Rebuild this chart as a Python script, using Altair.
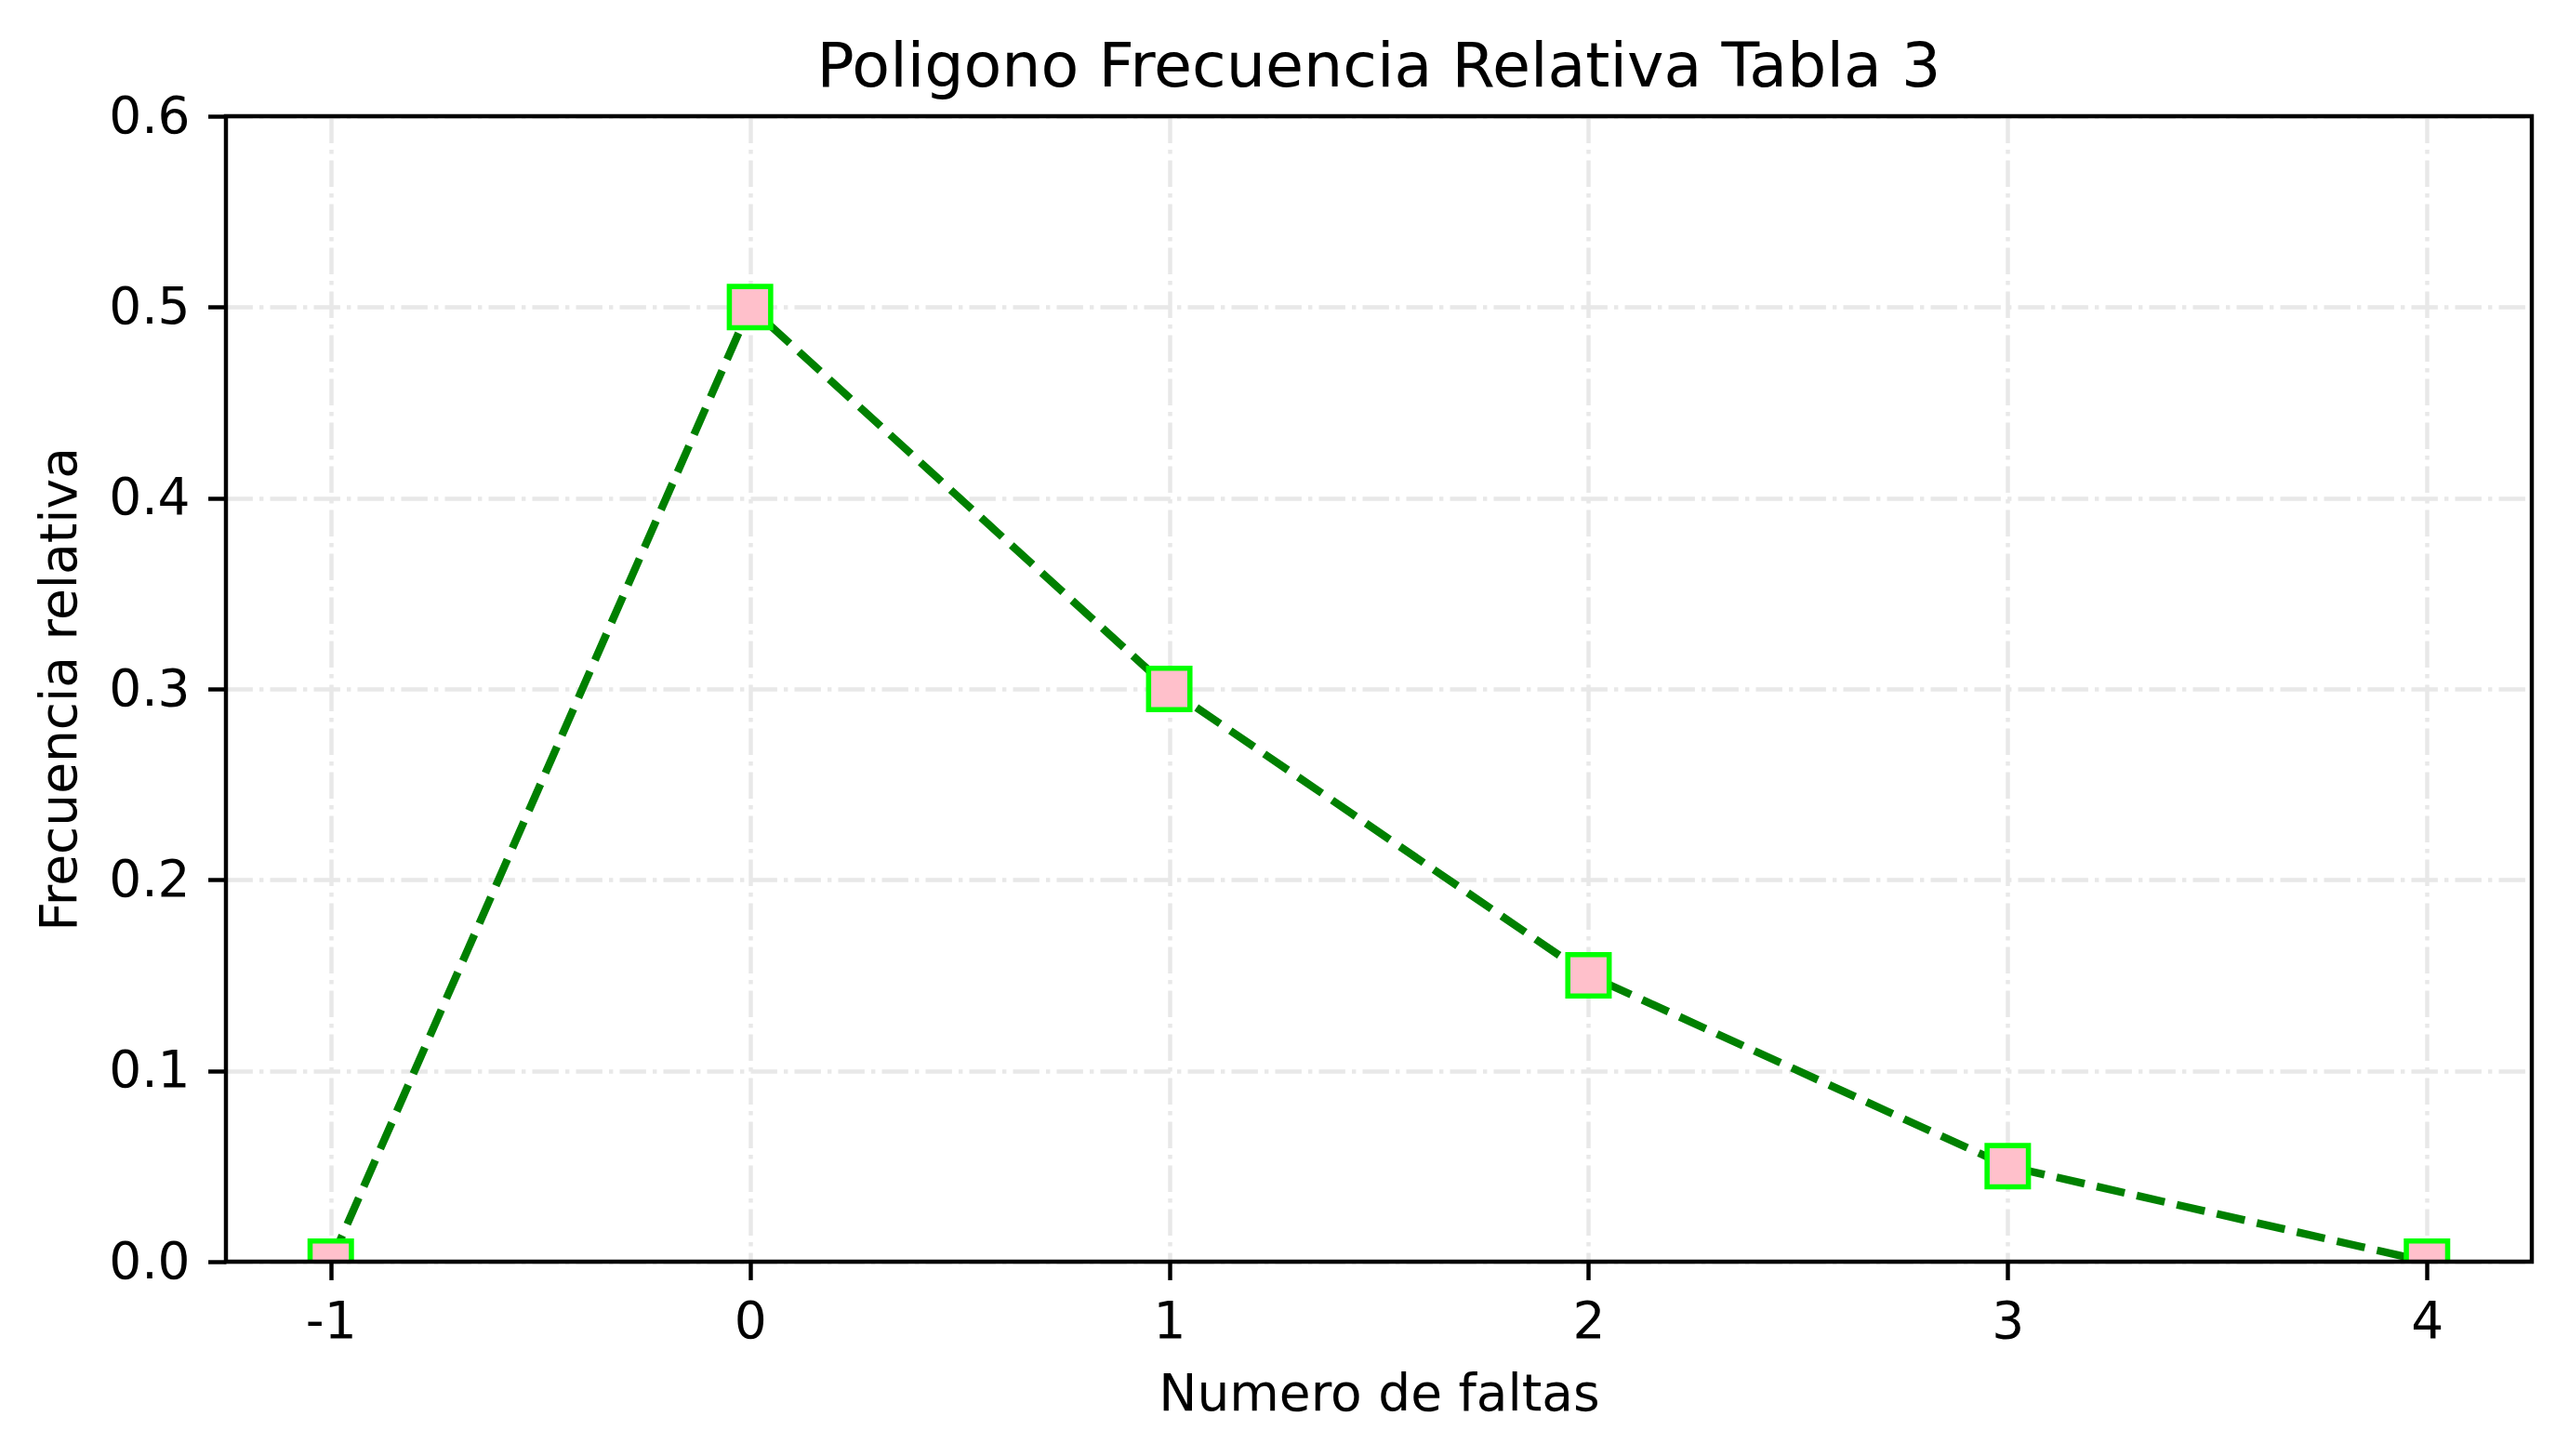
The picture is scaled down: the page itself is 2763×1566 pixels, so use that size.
import altair as alt
import pandas as pd

faltas = [-1, 0, 1, 2, 3, 4]
frec_rel = [0.0, 0.5, 0.3, 0.15, 0.05, 0.0]
x_ticks = [-1, 0, 1, 2, 3, 4]
y_ticks = [0.0, 0.1, 0.2, 0.3, 0.4, 0.5, 0.6]

df = pd.DataFrame({"faltas": faltas, "frec": frec_rel})

FONT = "DejaVu Sans"
PX = 400 / 72  # px per point
W, H = 2480, 1232

x_enc = alt.X(
    "faltas:Q",
    scale=alt.Scale(domain=[-1.25, 4.25], nice=False, zero=False),
    axis=alt.Axis(
        values=x_ticks,
        labelExpr="'' + datum.value",
        title="Numero de faltas",
        titlePadding=24,
    ),
)
y_enc = alt.Y(
    "frec:Q",
    scale=alt.Scale(domain=[0, 0.6], nice=False),
    axis=alt.Axis(
        values=y_ticks,
        format=".1f",
        title="Frecuencia relativa",
        titlePadding=23,
    ),
)

line = alt.Chart(df).mark_line(
    color="#008000",
    strokeWidth=1.5 * PX,
    strokeDash=[3.7 * 1.5 * PX, 1.6 * 1.5 * PX],
    clip=True,
).encode(x=x_enc, y=y_enc)

points = alt.Chart(df).mark_point(
    shape="square",
    filled=True,
    fill="#ffc0cb",
    stroke="#00ff00",
    strokeWidth=1.0 * PX,
    fillOpacity=1,
    opacity=1,
    size=(8 * PX) ** 2,
    clip=True,
).encode(x="faltas:Q", y="frec:Q")

frame = alt.Chart(alt.Data(values=[{}])).mark_rect(
    fill=None, fillOpacity=0, stroke="black", strokeWidth=0.8 * PX
).encode(
    x=alt.value(0), x2=alt.value(W), y=alt.value(0), y2=alt.value(H)
)

chart = (
    alt.layer(line, points, frame)
    .properties(
        width=W,
        height=H,
        background="white",
        autosize=alt.AutoSizeParams(type="none"),
        padding={"left": 235, "top": 117, "right": 24, "bottom": 190},
        title=alt.TitleParams(
            "Poligono Frecuencia Relativa Tabla 3",
            font=FONT,
            fontSize=66.7,
            fontWeight="normal",
            color="black",
            anchor="middle",
            frame="group",
            offset=-9,
        ),
    )
    .configure_view(stroke=None)
    .configure_axis(
        labelFont=FONT,
        titleFont=FONT,
        labelFontSize=55,
        titleFontSize=55,
        titleFontWeight="normal",
        labelColor="black",
        titleColor="black",
        domain=False,
        ticks=True,
        tickColor="black",
        tickWidth=0.8 * PX,
        tickSize=3.5 * PX,
        labelPadding=3.5 * PX,
        grid=True,
        gridColor="#e8e8e8",
        gridWidth=0.8 * PX,
        gridDash=[28.4, 7.1, 4.4, 7.1],
        labelFlush=False,
        labelOverlap=False,
    )
)

chart.save("out.html", embed_options={"renderer": "svg", "actions": False})
